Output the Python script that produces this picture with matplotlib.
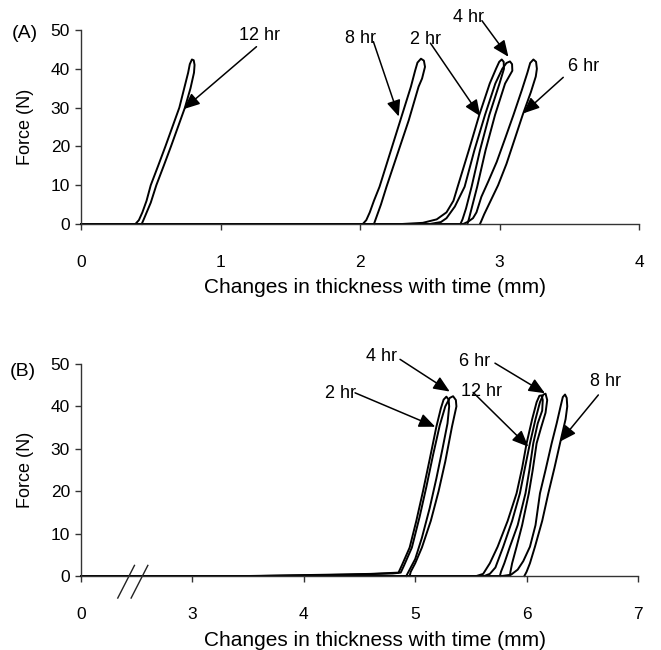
import matplotlib
matplotlib.use("Agg")
import matplotlib.pyplot as plt

plt.rcParams['font.family'] = ['Liberation Sans', 'DejaVu Sans']

# ---------------- panel A: force vs thickness change (mm) ----------------
a_12hr_x = [0.0, 0.39, 0.415, 0.44, 0.47, 0.50, 0.553, 0.605, 0.655, 0.705, 0.74, 0.768, 0.78,
            0.795, 0.808, 0.814, 0.81, 0.785, 0.745, 0.695, 0.645, 0.593, 0.54, 0.50, 0.465,
            0.445, 0.435]
a_12hr_f = [0, 0, 1, 3, 6, 10, 15, 20, 25, 30, 35, 39, 41.2,
            42.4, 42.2, 41, 39, 35, 30, 25, 20, 15, 10, 5.5, 2.5,
            0.8, 0]

a_8hr_x = [0.0, 2.02, 2.045, 2.07, 2.10, 2.14, 2.215, 2.29, 2.365, 2.395, 2.412, 2.437, 2.458,
           2.466, 2.445, 2.42, 2.35, 2.27, 2.19, 2.15, 2.12, 2.105, 2.10]
a_8hr_f = [0, 0, 1, 3, 6, 9.6, 18.2, 26.8, 35.4, 39.5, 41.6, 42.6, 42.1,
           40.5, 37.5, 35.4, 26.8, 18.2, 9.6, 5, 2, 0.5, 0]

a_2hr_x = [0.0, 2.30, 2.45, 2.55, 2.62, 2.67, 2.70, 2.78, 2.855, 2.93, 2.975, 2.998, 3.016,
           3.03, 3.032, 3.0, 2.927, 2.86, 2.80, 2.76, 2.735, 2.72]
a_2hr_f = [0, 0, 0.3, 1.2, 3, 6, 9.6, 19, 28.1, 36.2, 40, 41.8, 42.4,
           41.8, 40, 36.2, 28.1, 19, 9.6, 4, 1.2, 0]

a_4hr_x = [0.0, 2.50, 2.58, 2.62, 2.68, 2.75, 2.82, 2.896, 2.97, 3.02, 3.05, 3.075, 3.09,
           3.092, 3.04, 2.968, 2.90, 2.84, 2.80, 2.78, 2.77]
a_4hr_f = [0, 0, 0.5, 1.5, 4.5, 9.6, 19, 28.1, 36.2, 40, 41.5, 41.9, 41.2,
           39.5, 36.2, 28.1, 19, 9.6, 4, 1.2, 0]

a_6hr_x = [0.0, 2.74, 2.775, 2.81, 2.835, 2.87, 2.92, 2.98, 3.04, 3.10, 3.16, 3.20, 3.22,
           3.243, 3.262, 3.268, 3.26, 3.225, 3.166, 3.11, 3.05, 2.99, 2.93, 2.89, 2.87, 2.86]
a_6hr_f = [0, 0, 0.6, 1.5, 3, 7, 11, 16, 22, 28.1, 34.5, 39, 41.5,
           42.4, 41.8, 40, 38, 34, 28.1, 22, 15.5, 10, 5.5, 2.5, 0.8, 0]

# ---------------- panel B (axis value 2 is the broken "0") ----------------
b_2hr_x = [2.0, 3.5, 4.2, 4.6, 4.85, 4.88, 4.95, 5.01, 5.07, 5.13, 5.19, 5.23, 5.255, 5.28,
           5.30, 5.305, 5.29, 5.245, 5.19, 5.13, 5.06, 5.0, 4.94, 4.92]
b_2hr_f = [0, 0, 0.3, 0.5, 0.8, 2.5, 6.7, 13, 20, 27.5, 35.2, 39.5, 41.6, 42.3,
           41.6, 40, 36, 30, 23, 16, 9, 4, 1, 0]

b_4hr_x = [2.0, 3.6, 4.4, 4.8, 4.87, 4.90, 4.97, 5.04, 5.10, 5.16, 5.22, 5.27, 5.31, 5.34,
           5.365, 5.37, 5.33, 5.27, 5.21, 5.14, 5.06, 5.0, 4.96, 4.95]
b_4hr_f = [0, 0, 0.3, 0.6, 0.8, 2.5, 6.7, 14, 21, 28.5, 35.5, 40, 42, 42.4,
           41.5, 40, 35.2, 27, 20, 13, 6.7, 3, 1, 0]

b_12hr_x = [2.0, 5.55, 5.61, 5.67, 5.74, 5.83, 5.91, 5.96, 6.0, 6.05, 6.09, 6.115, 6.135,
            6.145, 6.14, 6.10, 6.06, 6.025, 5.99, 5.92, 5.85, 5.80, 5.77, 5.76]
b_12hr_f = [0, 0, 0.5, 3, 6.9, 13, 19.5, 25.5, 31.3, 37, 41, 42.5, 42.6,
            41.5, 39, 36, 31.3, 25, 19.5, 12, 6.9, 3, 1, 0]

b_6hr_x = [2.0, 5.62, 5.67, 5.72, 5.79, 5.87, 5.94, 5.985, 6.03, 6.08, 6.12, 6.15, 6.17,
           6.185, 6.17, 6.13, 6.09, 6.055, 6.02, 5.96, 5.91, 5.87, 5.855, 5.85]
b_6hr_f = [0, 0, 0.5, 2, 6.9, 13, 19.5, 25.5, 31.3, 37, 41, 42.8, 43,
           41.5, 38.5, 35, 31.3, 25, 19.5, 12, 6.9, 3, 1, 0]

b_8hr_x = [2.0, 5.78, 5.86, 5.92, 5.97, 6.03, 6.08, 6.12, 6.17, 6.225, 6.27, 6.305, 6.325,
           6.345, 6.36, 6.365, 6.35, 6.30, 6.25, 6.195, 6.14, 6.075, 6.03, 6.0, 5.98]
b_8hr_f = [0, 0, 0.3, 1.5, 3.5, 6.9, 12, 19.5, 25, 31.3, 36, 40, 42.2,
           42.8, 42, 40, 37, 31.3, 25.5, 19.5, 13, 6.9, 3, 1, 0]

a_curves = [(a_12hr_x, a_12hr_f), (a_8hr_x, a_8hr_f), (a_2hr_x, a_2hr_f),
            (a_4hr_x, a_4hr_f), (a_6hr_x, a_6hr_f)]
b_curves = [(b_2hr_x, b_2hr_f), (b_4hr_x, b_4hr_f), (b_12hr_x, b_12hr_f),
            (b_6hr_x, b_6hr_f), (b_8hr_x, b_8hr_f)]

# label text, text position, arrow start, arrow end (data coords)
a_notes = [("12 hr", (1.28, 48.6), (1.258, 45.7), (0.735, 29.6)),
           ("8 hr", (2.006, 47.9), (2.096, 47.0), (2.278, 27.7)),
           ("2 hr", (2.468, 47.6), (2.505, 46.6), (2.862, 27.8)),
           ("4 hr", (2.777, 53.3), (2.874, 52.4), (3.064, 43.1)),
           ("6 hr", (3.60, 40.7), (3.457, 37.8), (3.17, 28.5))]
b_notes = [("4 hr", (4.70, 51.7), (4.864, 51.1), (5.31, 43.5)),
           ("2 hr", (4.325, 43.1), (4.46, 43.2), (5.18, 35.2)),
           ("6 hr", (5.537, 50.5), (5.716, 50.2), (6.165, 43.1)),
           ("12 hr", (5.597, 43.5), (5.52, 43.3), (6.015, 30.5)),
           ("8 hr", (6.704, 45.8), (6.644, 42.7), (6.30, 31.7))]

FS_TICK = 12.5
FS_NOTE = 13
fig = plt.figure(figsize=(6.61, 6.50), dpi=100)
ax_a = fig.add_axes([81 / 661, 1 - 224 / 650, 558 / 661, 194 / 650])
ax_b = fig.add_axes([81 / 661, 1 - 576 / 650, 557 / 661, 212 / 650])


def style_axis(ax, label_y):
    for s in ['top', 'right']:
        ax.spines[s].set_visible(False)
    for s in ['left', 'bottom']:
        ax.spines[s].set_color('#333333')
        ax.spines[s].set_linewidth(1.0)
    ax.set_ylim(0, 50)
    ax.set_yticks([0, 10, 20, 30, 40, 50])
    ax.tick_params(axis='y', direction='out', length=4, width=1.0, color='#333333',
                   pad=4, labelsize=FS_TICK)
    ax.tick_params(axis='x', direction='out', length=4.5, width=1.0, color='#333333',
                   pad=18, labelsize=FS_TICK)
    ax.set_ylabel("Force (N)", fontsize=13)
    ax.yaxis.set_label_coords(-56 / 558, 0.5)
    ax.yaxis.label.set_va('center')
    ax.set_xlabel("Changes in thickness with time (mm)", fontsize=15)
    ax.xaxis.set_label_coords(0.527, label_y)
    ax.xaxis.label.set_va('center')


for x, f in a_curves:
    ax_a.plot(x, f, color='black', lw=1.4, solid_joinstyle='round', clip_on=False)
ax_a.set_xlim(0, 4)
ax_a.set_xticks([0, 1, 2, 3, 4])
style_axis(ax_a, -(288 - 224) / 194)

for x, f in b_curves:
    ax_b.plot(x, f, color='black', lw=1.4, solid_joinstyle='round', clip_on=False)
ax_b.set_xlim(2, 7)
ax_b.set_xticks([2, 3, 4, 5, 6, 7])
ax_b.set_xticklabels(['0', '3', '4', '5', '6', '7'])
style_axis(ax_b, -(640 - 576) / 212)

# axis break marks
for x0, x1 in [(2.33, 2.48), (2.45, 2.60)]:
    ax_b.plot([x0, x1], [-5.2, 2.5], color='#222222', lw=1.0, clip_on=False)

arrow = dict(arrowstyle='-|>,head_length=0.7,head_width=0.3', color='black', lw=1.1,
             shrinkA=0, shrinkB=0, mutation_scale=14)
for ax, notes in [(ax_a, a_notes), (ax_b, b_notes)]:
    for label, txt, start, end in notes:
        ax.text(txt[0], txt[1], label, fontsize=FS_NOTE, ha='center', va='center', clip_on=False)
        ax.annotate('', xy=end, xytext=start, arrowprops=arrow, annotation_clip=False)

fig.text(25 / 661, 1 - 33 / 650, "(A)", fontsize=14, ha='center', va='center')
fig.text(23 / 661, 1 - 372 / 650, "(B)", fontsize=14, ha='center', va='center')

fig.savefig("out.png", dpi=100)
